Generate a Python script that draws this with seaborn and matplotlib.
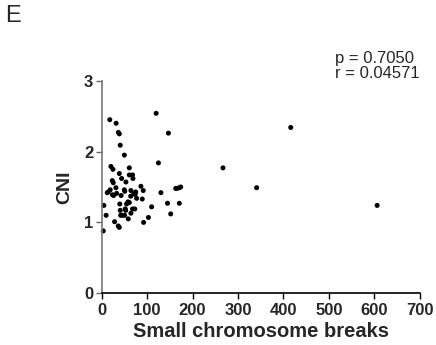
import numpy as np
import pandas as pd
import seaborn as sns
import matplotlib.pyplot as plt

# values
breaks = [3.7, 5, 10, 18, 32, 37, 39, 41, 50, 120, 147, 125, 20.5, 25, 39, 61,
          23.5, 25.7, 44, 53.5, 61, 68, 69, 14.7, 12.5, 19, 24, 26.4, 31.5, 33,
          43, 50, 51, 64.5, 64, 71, 75, 74, 77, 86.5, 91.6, 89.4, 40, 55, 58, 61,
          52, 53, 41, 68, 73, 64.5, 42, 46, 50.6, 58.7, 28.6, 36.7, 39, 92.4,
          103, 110, 130.5, 145, 152, 163, 166, 171, 174, 171, 267, 341, 416, 606]
cni = [0.88, 1.24, 1.10, 2.45, 2.40, 2.27, 2.25, 2.09, 1.95, 2.54, 2.26, 1.84,
       1.79, 1.75, 1.69, 1.77, 1.59, 1.56, 1.62, 1.57, 1.67, 1.67, 1.62, 1.43,
       1.42, 1.46, 1.39, 1.38, 1.49, 1.41, 1.38, 1.46, 1.44, 1.45, 1.37, 1.40,
       1.43, 1.40, 1.34, 1.51, 1.45, 1.33, 1.26, 1.26, 1.29, 1.28, 1.19, 1.17,
       1.17, 1.19, 1.19, 1.13, 1.10, 1.10, 1.10, 1.05, 1.01, 0.95, 0.93, 1.00,
       1.07, 1.22, 1.42, 1.27, 1.12, 1.48, 1.48, 1.49, 1.50, 1.27, 1.77, 1.49,
       2.34, 1.24]
x_ticks = [0, 100, 200, 300, 400, 500, 600, 700]
y_ticks = [0, 1, 2, 3]

df = pd.DataFrame({'breaks': breaks, 'CNI': cni})

sns.set_style('ticks')
plt.rcParams['font.family'] = ['Liberation Sans', 'DejaVu Sans']

fig = plt.figure(figsize=(4.36, 3.45), dpi=100)
ax = fig.add_axes([0.233, 0.150, 0.730, 0.616])
sns.scatterplot(data=df, x='breaks', y='CNI', ax=ax, color='black', s=13,
                edgecolor='none', clip_on=False)

ax.set_xlim(0, 700)
ax.set_ylim(0, 3)
ax.set_xticks(x_ticks)
ax.set_yticks(y_ticks)
for lab in ax.get_xticklabels() + ax.get_yticklabels():
    lab.set_fontweight('bold')
ax.tick_params(labelsize=12, width=1, length=4.5, color='black', pad=1.5)
ax.tick_params(axis='x', pad=2.5)
ax.tick_params(axis='y', color='#666666')
sns.despine(ax=ax)
ax.spines['left'].set_color('#777777')
ax.spines['left'].set_linewidth(1.2)
ax.spines['bottom'].set_color('black')
ax.spines['bottom'].set_linewidth(1.2)

ax.set_xlabel('Small chromosome breaks', fontsize=14.5, fontweight='bold')
ax.set_ylabel('CNI', fontsize=14, fontweight='bold')
ax.xaxis.set_label_coords(0.5, -0.135)
ax.yaxis.set_label_coords(-0.09, 0.5)

fig.text(0.012, 0.985, 'E', fontsize=17, va='top', ha='left')
fig.text(0.768, 0.852, 'p = 0.7050\nr = 0.04571', fontsize=12, va='top', ha='left',
         linespacing=1.0)

fig.savefig('out.png', dpi=100)
